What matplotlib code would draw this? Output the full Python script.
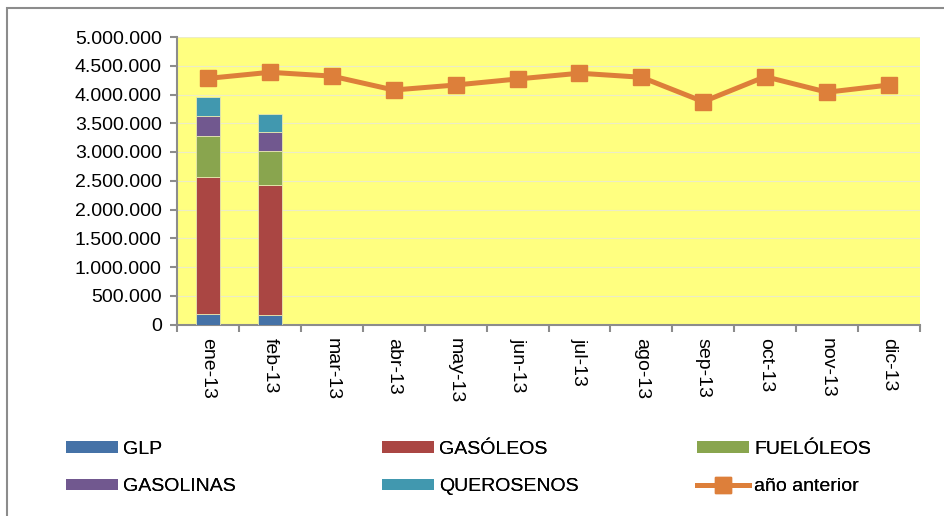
import matplotlib
matplotlib.use("Agg")
import matplotlib.pyplot as plt
import numpy as np
from matplotlib.ticker import FuncFormatter, FixedLocator
from matplotlib.patches import Rectangle
from matplotlib.lines import Line2D

plt.rcParams['font.family'] = ['Liberation Sans', 'DejaVu Sans']

months = ["ene-13", "feb-13", "mar-13", "abr-13", "may-13", "jun-13",
          "jul-13", "ago-13", "sep-13", "oct-13", "nov-13", "dic-13"]

glp = [177000, 160000]
gasoleos = [2393000, 2270000]
fueloleos = [708000, 587000]
gasolinas = [342000, 323000]
querosenos = [330000, 320000]

anio_anterior = [4280000, 4386000, 4320000, 4078000, 4165000, 4270000,
                 4370000, 4300000, 3875000, 4310000, 4040000, 4165000]

series = [("GLP", glp, "#4572A7"),
          ("GASÓLEOS", gasoleos, "#AA4643"),
          ("FUELÓLEOS", fueloleos, "#89A54E"),
          ("GASOLINAS", gasolinas, "#71588F"),
          ("QUEROSENOS", querosenos, "#4198AF")]
line_color = "#DD7F3A"
FS = 14

fig = plt.figure(figsize=(9.44, 5.16), dpi=100)
# outer frame
fig.patches.append(Rectangle((7/944, -0.1), 1.2, 1 - 8/516 + 0.1, transform=fig.transFigure,
                             fill=False, edgecolor="#8c8c8c", linewidth=1.5))

ax = fig.add_axes([177/944, (516-324.5)/516, (920-177)/944, (324.5-37)/516])
ax.set_facecolor("#FFFF80")

xb = np.arange(len(glp))
bottom = np.zeros(len(glp))
proxies = {}
for name, vals, col in series:
    ax.bar(xb, vals, width=0.39, bottom=bottom, color=col,
           edgecolor="#e8e8b0", linewidth=0.6, zorder=3)
    proxies[name] = Rectangle((0, 0), 1, 1, facecolor=col, edgecolor="none")
    bottom += np.array(vals)

xl = np.arange(len(months))
ln, = ax.plot(xl, anio_anterior, color=line_color, linewidth=3.6, marker="s",
              markersize=11, markerfacecolor=line_color, markeredgecolor=line_color,
              zorder=4)

ax.set_ylim(0, 5000000)
ax.set_xlim(-0.5, len(months) - 0.5)
ax.set_yticks(np.arange(0, 5000001, 500000))
ax.yaxis.set_major_formatter(FuncFormatter(lambda v, p: f"{int(v):,}".replace(",", ".")))
ax.grid(axis="y", color="#ececc8", linewidth=0.8, zorder=0)
ax.set_axisbelow(True)

ax.set_xticks(xl)
ax.set_xticklabels(months, rotation=-90, fontsize=FS)
ax.tick_params(axis="x", which="major", length=0, pad=9.5)
ax.xaxis.set_minor_locator(FixedLocator(np.arange(-0.5, len(months), 1.0)))
ax.tick_params(axis="x", which="minor", length=5, width=1.5, color="#8c8c8c", direction="out")
ax.tick_params(axis="y", length=5, width=1.5, color="#8c8c8c", direction="out",
               labelsize=FS, pad=6)

for s in ["top", "right"]:
    ax.spines[s].set_visible(False)
for s in ["left", "bottom"]:
    ax.spines[s].set_color("#8c8c8c")
    ax.spines[s].set_linewidth(1.5)

line_proxy = Line2D([], [], color=line_color, linewidth=3.6, marker="s", markersize=11,
                    markerfacecolor=line_color, markeredgecolor=line_color)
columns = [(66, [("GLP", proxies["GLP"]), ("GASOLINAS", proxies["GASOLINAS"])]),
           (382, [("GASÓLEOS", proxies["GASÓLEOS"]), ("QUEROSENOS", proxies["QUEROSENOS"])]),
           (697, [("FUELÓLEOS", proxies["FUELÓLEOS"]), ("año anterior", line_proxy)])]
for x0, entries in columns:
    leg = fig.legend([e[1] for e in entries], [e[0] for e in entries],
                     loc="upper left", bbox_to_anchor=(x0/944, 1 - 441/516),
                     frameon=False, fontsize=FS, handlelength=2.67, handleheight=0.55,
                     handletextpad=0.28, labelspacing=1.05, borderpad=0, borderaxespad=0)
    fig.add_artist(leg)

fig.savefig("out.png", dpi=100)
